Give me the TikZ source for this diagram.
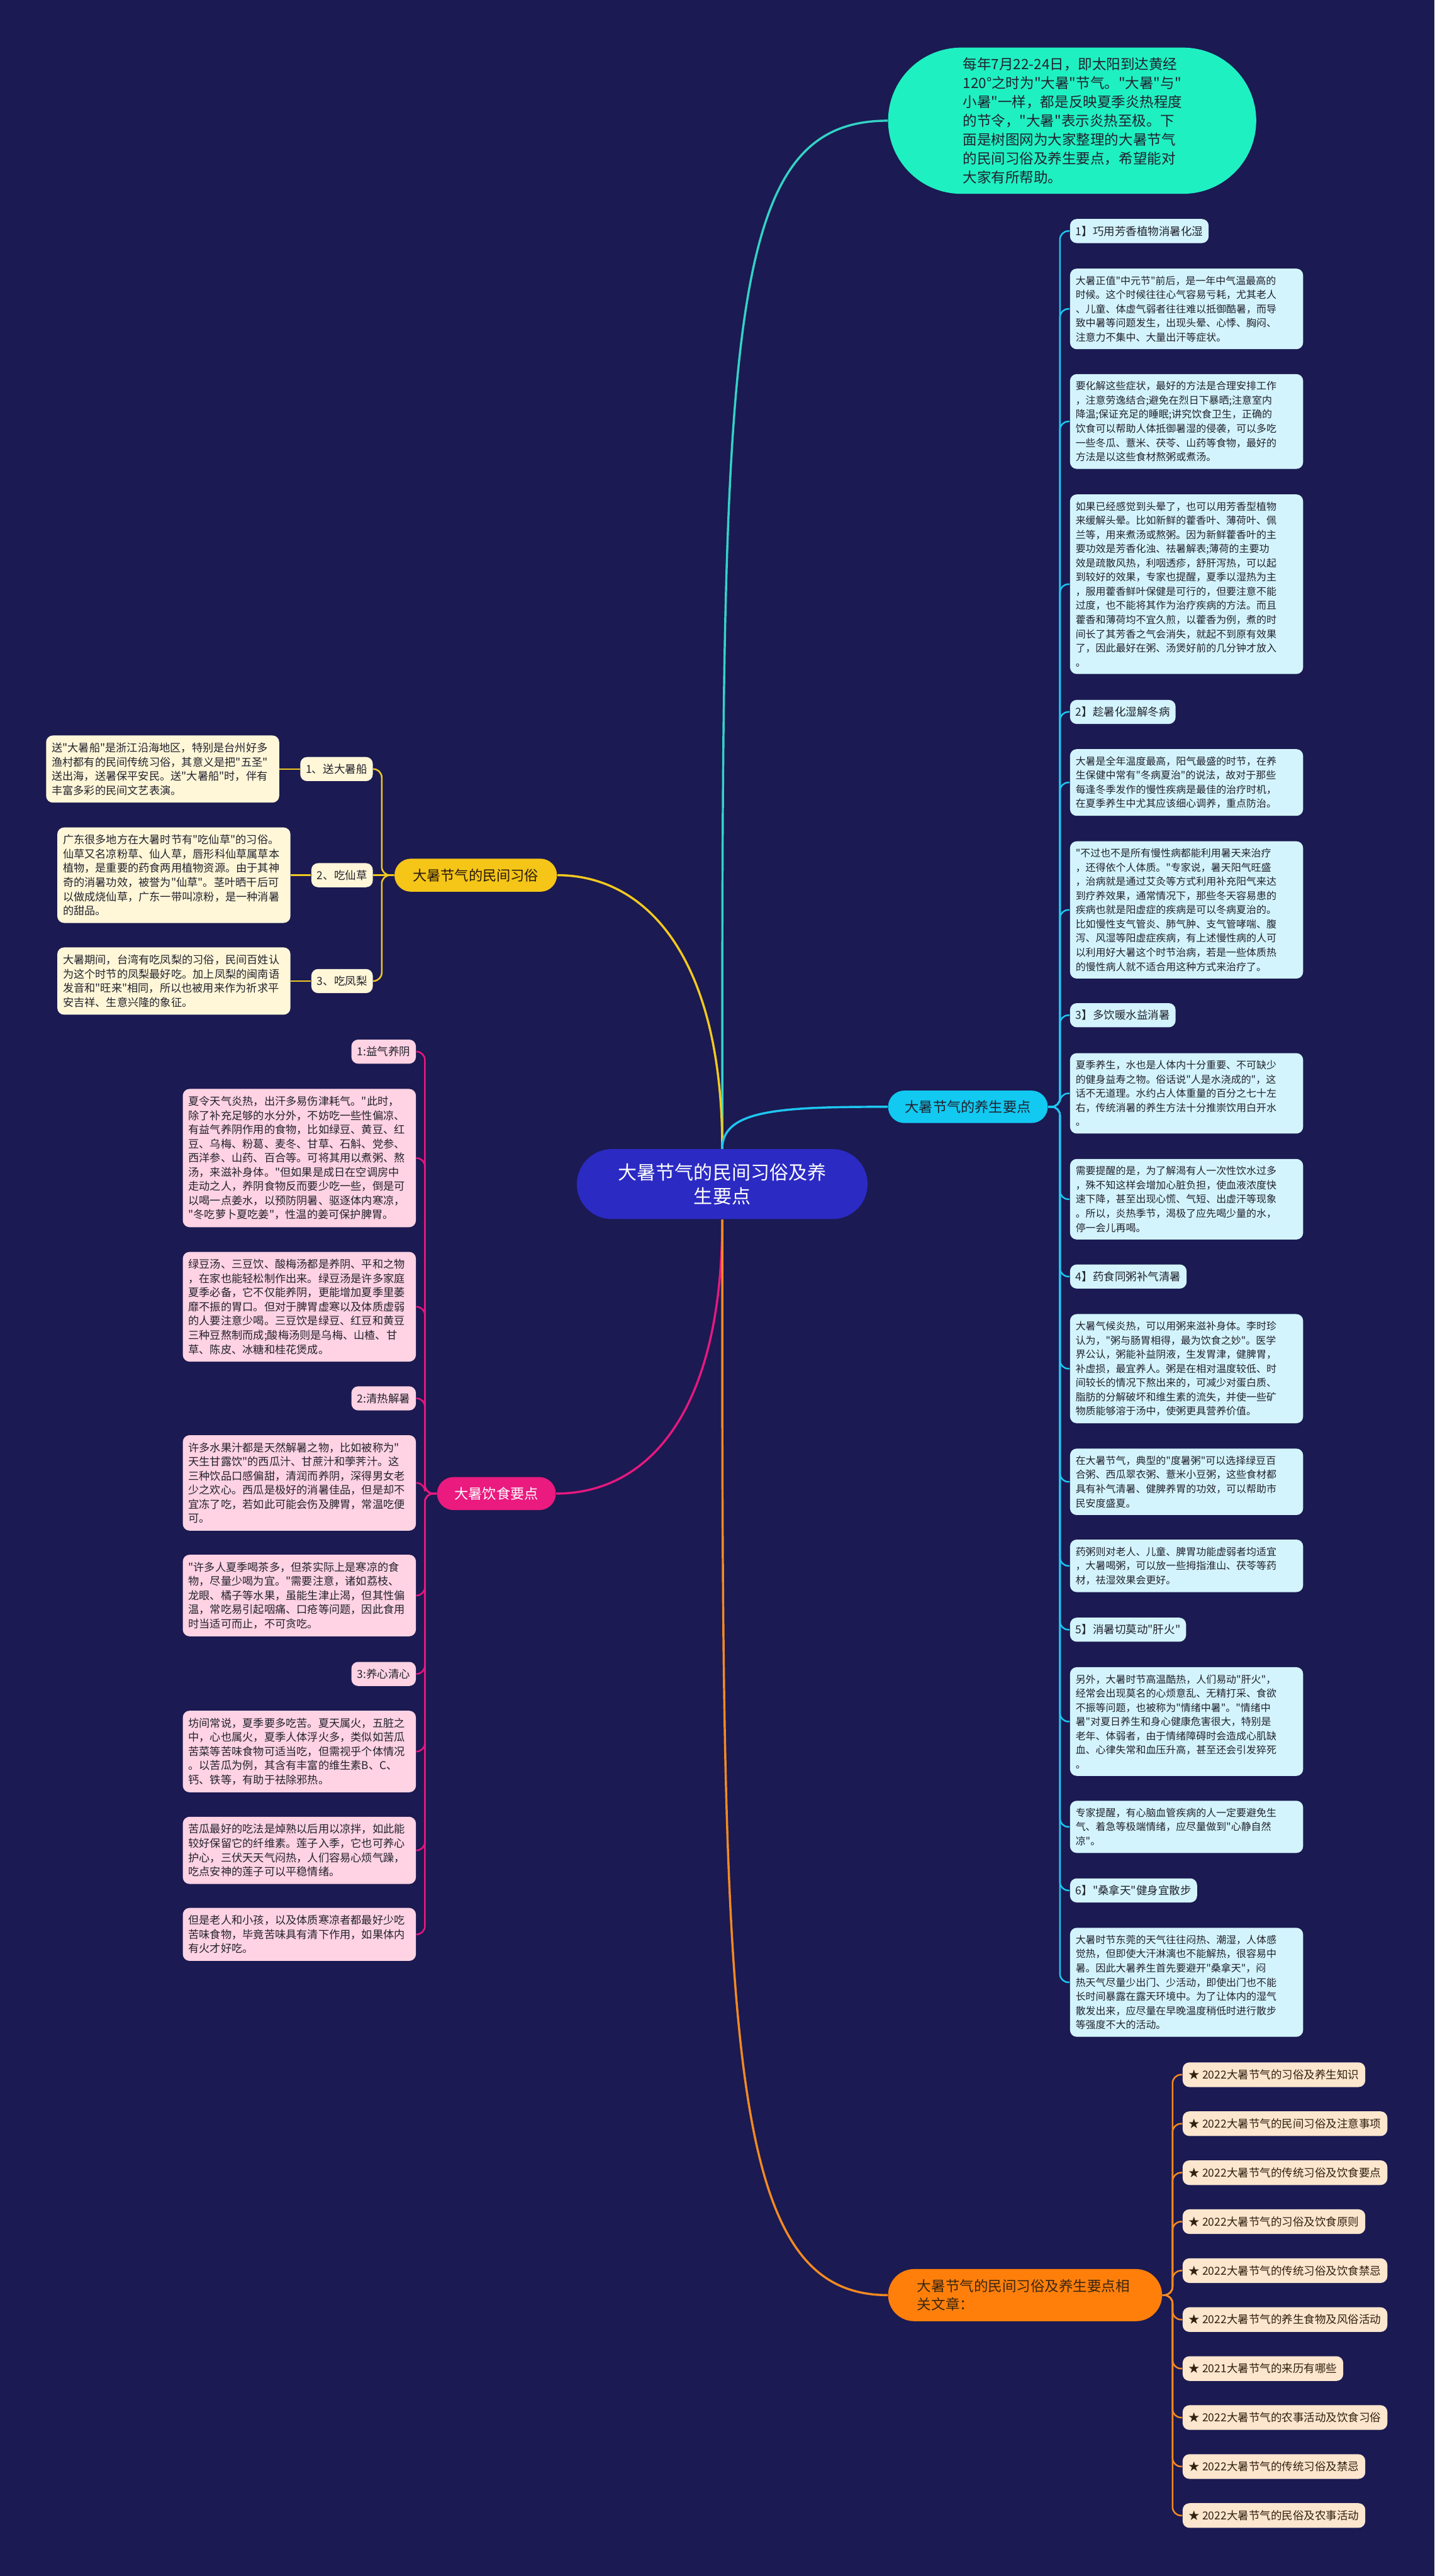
\documentclass[tikz,border=0pt]{standalone}
\usepackage{fontspec}
\setmainfont{Noto Sans CJK SC}[Ligatures=TeXOff]
\usepackage{tikz}
\usetikzlibrary{shapes.misc}

\definecolor{bgnavy}{HTML}{1B1A52}
\definecolor{mainblue}{HTML}{2B2AC3}
\definecolor{introgreen}{HTML}{1FF0C2}
\definecolor{tealline}{HTML}{33D3C6}
\definecolor{cyanpill}{HTML}{12C9F1}
\definecolor{cyanbox}{HTML}{D3F4FC}
\definecolor{cyanline}{HTML}{1EC6F0}
\definecolor{yelpill}{HTML}{F5C518}
\definecolor{yelbox}{HTML}{FFF7D8}
\definecolor{yelline}{HTML}{F2C920}
\definecolor{pinkpill}{HTML}{EA1A7F}
\definecolor{pinkbox}{HTML}{FFD3E3}
\definecolor{pinkline}{HTML}{E6187F}
\definecolor{orpill}{HTML}{FF7F0A}
\definecolor{orbox}{HTML}{FDE6CE}
\definecolor{orline}{HTML}{F48A22}
\definecolor{notetext}{HTML}{22222E}

\begin{document}
\begin{tikzpicture}[
    pill/.style={rounded rectangle, inner sep=0pt, align=center,
        font=\fontsize{7.1pt}{9pt}\selectfont},
    note/.style={rectangle, rounded corners=1.2mm, text width=3.96cm,
        align=left, inner xsep=0.1cm, inner ysep=0.13cm, text=notetext,
        font=\fontsize{5.1pt}{7.2pt}\selectfont},
    widenote/.style={note, font=\fontsize{5.5pt}{7.2pt}\selectfont},
    tag/.style={rectangle, rounded corners=1.2mm, minimum height=0.43cm,
        inner xsep=0.1cm, inner ysep=0pt, text=notetext,
        font=\fontsize{5.6pt}{7pt}\selectfont},
    article/.style={tag, fill=orbox, anchor=west, minimum height=0.44cm,
        inner xsep=0.11cm, text=black!75!brown},
    branch/.style={line width=1.1pt},
    twig/.style={line width=0.8pt, rounded corners=1.5mm}
]

        %% ── Fond ──────────────────────────────────────────────────────────
        \fill[bgnavy] (0,0) rectangle (25.6,-45.99);

        %% ── Nœud central et branches ──────────────────────────────────────
        \node[pill, fill=mainblue, text=white, minimum width=5.19cm,
            minimum height=1.25cm, font=\fontsize{9.6pt}{12.3pt}\selectfont]
            (main) at (12.89,-21.14) {大暑节气的民间习俗及养\\生要点};

        \node[pill, fill=introgreen, text=notetext, minimum width=6.57cm,
            minimum height=2.61cm, text width=3.9cm, align=left,
            font=\fontsize{7.2pt}{9.6pt}\selectfont]
            (intro) at (19.135,-2.155)
            {每年7月22-24日，即太阳到达黄经\\
             120°之时为"大暑"节气。"大暑"与"\\
             小暑"一样，都是反映夏季炎热程度\\
             的节令，"大暑"表示炎热至极。下\\
             面是树图网为大家整理的大暑节气\\
             的民间习俗及养生要点，希望能对\\
             大家有所帮助。};

        \node[pill, fill=yelpill, text=black!80!brown, minimum width=2.90cm,
            minimum height=0.59cm] (custom) at (8.49,-15.625) {大暑节气的民间习俗};
        \node[pill, fill=cyanpill, text=notetext, minimum width=2.85cm,
            minimum height=0.58cm] (health) at (17.275,-19.76) {大暑节气的养生要点};
        \node[pill, fill=pinkpill, text=white, minimum width=2.12cm,
            minimum height=0.59cm] (diet) at (8.86,-26.665) {大暑饮食要点};
        \node[pill, fill=orpill, text=black!70!brown, minimum width=4.89cm,
            minimum height=0.93cm, text width=3.85cm, align=left,
            font=\fontsize{7.2pt}{9.1pt}\selectfont]
            (related) at (18.295,-40.975) {大暑节气的民间习俗及养生要点相\\关文章：};

        \draw[branch, tealline] (main.north)
            .. controls +(0,14.5) and +(-2.96,0) .. (intro.west);
        \draw[branch, yelline] (main.north)
            .. controls +(0,3.4) and +(1.6,0) .. (custom.east);
        \draw[branch, cyanline] (main.north)
            .. controls +(0,0.7) and +(-1.9,0) .. (health.west);
        \draw[branch, pinkline] (main.south)
            .. controls +(0,-3.5) and +(1.6,0) .. (diet.east);
        \draw[branch, orline] (main.south)
            .. controls +(0,-14.5) and +(-2.96,0) .. (related.west);

        %% ──民间习俗 (gauche, jaune) ─────────────────────────────────────
        \node[tag, fill=yelbox, anchor=east] (boat) at (6.66,-13.73) {1、送大暑船};
        \node[tag, fill=yelbox, anchor=east] (grass) at (6.66,-15.625) {2、吃仙草};
        \node[tag, fill=yelbox, anchor=east] (pine) at (6.66,-17.515) {3、吃凤梨};

        \node[widenote, fill=yelbox, anchor=east] (boattxt) at (4.99,-13.73)
            {送"大暑船"是浙江沿海地区，特别是台州好多\\
             渔村都有的民间传统习俗，其意义是把"五圣"\\
             送出海，送暑保平安民。送"大暑船"时，伴有\\
             丰富多彩的民间文艺表演。};
        \node[widenote, fill=yelbox, anchor=east] (grasstxt) at (5.19,-15.625)
            {广东很多地方在大暑时节有"吃仙草"的习俗。\\
             仙草又名凉粉草、仙人草，唇形科仙草属草本\\
             植物，是重要的药食两用植物资源。由于其神\\
             奇的消暑功效，被誉为"仙草"。茎叶晒干后可\\
             以做成烧仙草，广东一带叫凉粉，是一种消暑\\
             的甜品。};
        \node[widenote, fill=yelbox, anchor=east] (pinetxt) at (5.19,-17.515)
            {大暑期间，台湾有吃凤梨的习俗，民间百姓认\\
             为这个时节的凤梨最好吃。加上凤梨的闽南语\\
             发音和"旺来"相同，所以也被用来作为祈求平\\
             安吉祥、生意兴隆的象征。};

        \draw[twig, yelline] (custom.west) -- ++(-0.22,0) |- (boat.east);
        \draw[twig, yelline] (custom.west) -- (grass.east);
        \draw[twig, yelline] (custom.west) -- ++(-0.22,0) |- (pine.east);
        \foreach \lab in {boat,grass,pine}
            \draw[twig, yelline] (\lab.west) -- (\lab txt.east);

        %% ── 饮食要点 (gauche, rose) ─────────────────────────────────────
        \node[tag, fill=pinkbox, anchor=east] (yin) at (7.43,-18.775) {1:益气养阴};
        \node[widenote, fill=pinkbox, anchor=east] (yin1) at (7.43,-20.675)
            {夏令天气炎热，出汗多易伤津耗气。"此时，\\
             除了补充足够的水分外，不妨吃一些性偏凉、\\
             有益气养阴作用的食物，比如绿豆、黄豆、红\\
             豆、乌梅、粉葛、麦冬、甘草、石斛、党参、\\
             西洋参、山药、百合等。可将其用以煮粥、熬\\
             汤，来滋补身体。"但如果是成日在空调房中\\
             走动之人，养阴食物反而要少吃一些，倒是可\\
             以喝一点姜水，以预防阴暑、驱逐体内寒凉，\\
             "冬吃萝卜夏吃姜"，性温的姜可保护脾胃。};
        \node[widenote, fill=pinkbox, anchor=east] (yin2) at (7.43,-23.33)
            {绿豆汤、三豆饮、酸梅汤都是养阴、平和之物\\
             ，在家也能轻松制作出来。绿豆汤是许多家庭\\
             夏季必备，它不仅能养阴，更能增加夏季里萎\\
             靡不振的胃口。但对于脾胃虚寒以及体质虚弱\\
             的人要注意少喝。三豆饮是绿豆、红豆和黄豆\\
             三种豆熬制而成;酸梅汤则是乌梅、山楂、甘\\
             草、陈皮、冰糖和桂花煲成。};
        \node[tag, fill=pinkbox, anchor=east] (cool) at (7.43,-24.965) {2:清热解暑};
        \node[widenote, fill=pinkbox, anchor=east] (cool1) at (7.43,-26.475)
            {许多水果汁都是天然解暑之物，比如被称为"\\
             天生甘露饮"的西瓜汁、甘蔗汁和荸荠汁。这\\
             三种饮品口感偏甜，清润而养阴，深得男女老\\
             少之欢心。西瓜是极好的消暑佳品，但是却不\\
             宜冻了吃，若如此可能会伤及脾胃，常温吃便\\
             可。};
        \node[widenote, fill=pinkbox, anchor=east] (cool2) at (7.43,-28.485)
            {"许多人夏季喝茶多，但茶实际上是寒凉的食\\
             物，尽量少喝为宜。"需要注意，诸如荔枝、\\
             龙眼、橘子等水果，虽能生津止渴，但其性偏\\
             温，常吃易引起咽痛、口疮等问题，因此食用\\
             时当适可而止，不可贪吃。};
        \node[tag, fill=pinkbox, anchor=east] (heart) at (7.43,-29.885) {3:养心清心};
        \node[widenote, fill=pinkbox, anchor=east] (heart1) at (7.43,-31.27)
            {坊间常说，夏季要多吃苦。夏天属火，五脏之\\
             中，心也属火，夏季人体浮火多，类似如苦瓜\\
             苦菜等苦味食物可适当吃，但需视乎个体情况\\
             。以苦瓜为例，其含有丰富的维生素B、C、\\
             钙、铁等，有助于祛除邪热。};
        \node[widenote, fill=pinkbox, anchor=east] (heart2) at (7.43,-33.035)
            {苦瓜最好的吃法是焯熟以后用以凉拌，如此能\\
             较好保留它的纤维素。莲子入季，它也可养心\\
             护心，三伏天天气闷热，人们容易心烦气躁，\\
             吃点安神的莲子可以平稳情绪。};
        \node[widenote, fill=pinkbox, anchor=east] (heart3) at (7.43,-34.535)
            {但是老人和小孩，以及体质寒凉者都最好少吃\\
             苦味食物，毕竟苦味具有清下作用，如果体内\\
             有火才好吃。};

        \foreach \c in {yin,yin1,yin2,cool,cool1,cool2,heart,heart1,heart2,heart3}
            \draw[twig, pinkline] (diet.west) -- ++(-0.21,0) |- (\c.east);

        %% ── 养生要点 (droite, cyan) ─────────────────────────────────────
        \node[tag, fill=cyanbox, anchor=west] (tip1) at (19.09,-4.125) {1】巧用芳香植物消暑化湿};
        \node[note, fill=cyanbox, anchor=west] (tip1a) at (19.09,-5.515)
            {大暑正值"中元节"前后，是一年中气温最高的\\
             时候。这个时候往往心气容易亏耗，尤其老人\\
             、儿童、体虚气弱者往往难以抵御酷暑，而导\\
             致中暑等问题发生，出现头晕、心悸、胸闷、\\
             注意力不集中、大量出汗等症状。};
        \node[note, fill=cyanbox, anchor=west] (tip1b) at (19.09,-7.525)
            {要化解这些症状，最好的方法是合理安排工作\\
             ，注意劳逸结合;避免在烈日下暴晒;注意室内\\
             降温;保证充足的睡眠;讲究饮食卫生，正确的\\
             饮食可以帮助人体抵御暑湿的侵袭，可以多吃\\
             一些冬瓜、薏米、茯苓、山药等食物，最好的\\
             方法是以这些食材熬粥或煮汤。};
        \node[note, fill=cyanbox, anchor=west] (tip1c) at (19.09,-10.43)
            {如果已经感觉到头晕了，也可以用芳香型植物\\
             来缓解头晕。比如新鲜的藿香叶、薄荷叶、佩\\
             兰等，用来煮汤或熬粥。因为新鲜藿香叶的主\\
             要功效是芳香化浊、祛暑解表;薄荷的主要功\\
             效是疏散风热，利咽透疹，舒肝泻热，可以起\\
             到较好的效果，专家也提醒，夏季以湿热为主\\
             ，服用藿香鲜叶保健是可行的，但要注意不能\\
             过度，也不能将其作为治疗疾病的方法。而且\\
             藿香和薄荷均不宜久煎，以藿香为例，煮的时\\
             间长了其芳香之气会消失，就起不到原有效果\\
             了，因此最好在粥、汤煲好前的几分钟才放入\\
             。};
        \node[tag, fill=cyanbox, anchor=west] (tip2) at (19.09,-12.71) {2】趁暑化湿解冬病};
        \node[note, fill=cyanbox, anchor=west] (tip2a) at (19.09,-13.97)
            {大暑是全年温度最高，阳气最盛的时节，在养\\
             生保健中常有"冬病夏治"的说法，故对于那些\\
             每逢冬季发作的慢性疾病是最佳的治疗时机，\\
             在夏季养生中尤其应该细心调养，重点防治。};
        \node[note, fill=cyanbox, anchor=west] (tip2b) at (19.09,-16.245)
            {"不过也不是所有慢性病都能利用暑天来治疗\\
             ，还得依个人体质。"专家说，暑天阳气旺盛\\
             ，治病就是通过艾灸等方式利用补充阳气来达\\
             到疗养效果，通常情况下，那些冬天容易患的\\
             疾病也就是阳虚症的疾病是可以冬病夏治的。\\
             比如慢性支气管炎、肺气肿、支气管哮喘、腹\\
             泻、风湿等阳虚症疾病，有上述慢性病的人可\\
             以利用好大暑这个时节治病，若是一些体质热\\
             的慢性病人就不适合用这种方式来治疗了。};
        \node[tag, fill=cyanbox, anchor=west] (tip3) at (19.09,-18.125) {3】多饮暖水益消暑};
        \node[note, fill=cyanbox, anchor=west] (tip3a) at (19.09,-19.52)
            {夏季养生，水也是人体内十分重要、不可缺少\\
             的健身益寿之物。俗话说"人是水浇成的"，这\\
             话不无道理。水约占人体重量的百分之七十左\\
             右，传统消暑的养生方法十分推崇饮用白开水\\
             。};
        \node[note, fill=cyanbox, anchor=west] (tip3b) at (19.09,-21.41)
            {需要提醒的是，为了解渴有人一次性饮水过多\\
             ，殊不知这样会增加心脏负担，使血液浓度快\\
             速下降，甚至出现心慌、气短、出虚汗等现象\\
             。所以，炎热季节，渴极了应先喝少量的水，\\
             停一会儿再喝。};
        \node[tag, fill=cyanbox, anchor=west] (tip4) at (19.09,-22.79) {4】药食同粥补气清暑};
        \node[note, fill=cyanbox, anchor=west] (tip4a) at (19.09,-24.435)
            {大暑气候炎热，可以用粥来滋补身体。李时珍\\
             认为，"粥与肠胃相得，最为饮食之妙"。医学\\
             界公认，粥能补益阴液，生发胃津，健脾胃，\\
             补虚损，最宜养人。粥是在相对温度较低、时\\
             间较长的情况下熬出来的，可减少对蛋白质、\\
             脂肪的分解破坏和维生素的流失，并使一些矿\\
             物质能够溶于汤中，使粥更具营养价值。};
        \node[note, fill=cyanbox, anchor=west] (tip4b) at (19.09,-26.455)
            {在大暑节气，典型的"度暑粥"可以选择绿豆百\\
             合粥、西瓜翠衣粥、薏米小豆粥，这些食材都\\
             具有补气清暑、健脾养胃的功效，可以帮助市\\
             民安度盛夏。};
        \node[note, fill=cyanbox, anchor=west] (tip4c) at (19.09,-27.955)
            {药粥则对老人、儿童、脾胃功能虚弱者均适宜\\
             ，大暑喝粥，可以放一些拇指淮山、茯苓等药\\
             材，祛湿效果会更好。};
        \node[tag, fill=cyanbox, anchor=west] (tip5) at (19.09,-29.095) {5】消暑切莫动"肝火"};
        \node[note, fill=cyanbox, anchor=west] (tip5a) at (19.09,-30.735)
            {另外，大暑时节高温酷热，人们易动"肝火"，\\
             经常会出现莫名的心烦意乱、无精打采、食欲\\
             不振等问题，也被称为"情绪中暑"。"情绪中\\
             暑"对夏日养生和身心健康危害很大，特别是\\
             老年、体弱者，由于情绪障碍时会造成心肌缺\\
             血、心律失常和血压升高，甚至还会引发猝死\\
             。};
        \node[note, fill=cyanbox, anchor=west] (tip5b) at (19.09,-32.615)
            {专家提醒，有心脑血管疾病的人一定要避免生\\
             气、着急等极端情绪，应尽量做到"心静自然\\
             凉"。};
        \node[tag, fill=cyanbox, anchor=west] (tip6) at (19.09,-33.75) {6】"桑拿天"健身宜散步};
        \node[note, fill=cyanbox, anchor=west] (tip6a) at (19.09,-35.39)
            {大暑时节东莞的天气往往闷热、潮湿，人体感\\
             觉热，但即使大汗淋漓也不能解热，很容易中\\
             暑。因此大暑养生首先要避开"桑拿天"，闷\\
             热天气尽量少出门、少活动，即使出门也不能\\
             长时间暴露在露天环境中。为了让体内的湿气\\
             散发出来，应尽量在早晚温度稍低时进行散步\\
             等强度不大的活动。};

        \foreach \c in {tip1,tip1a,tip1b,tip1c,tip2,tip2a,tip2b,tip3,tip3a,tip3b,
                        tip4,tip4a,tip4b,tip4c,tip5,tip5a,tip5b,tip6,tip6a}
            \draw[twig, cyanline] (health.east) -- ++(0.21,0) |- (\c.west);

        %% ── 相关文章 (bas, orange) ───────────────────────────────────────
        \foreach \t [count=\i] in {2022大暑节气的习俗及养生知识,
                                   2022大暑节气的民间习俗及注意事项,
                                   2022大暑节气的传统习俗及饮食要点,
                                   2022大暑节气的习俗及饮食原则,
                                   2022大暑节气的传统习俗及饮食禁忌,
                                   2022大暑节气的养生食物及风俗活动,
                                   2021大暑节气的来历有哪些,
                                   2022大暑节气的农事活动及饮食习俗,
                                   2022大暑节气的传统习俗及禁忌,
                                   2022大暑节气的民俗及农事活动} {
            \node[article] (art\i) at (21.10,{-37.04-0.8744*(\i-1)}) {★ \t};
            \draw[twig, orline] (related.east) -- ++(0.18,0) |- (art\i.west);
        }

\end{tikzpicture}
\end{document}
